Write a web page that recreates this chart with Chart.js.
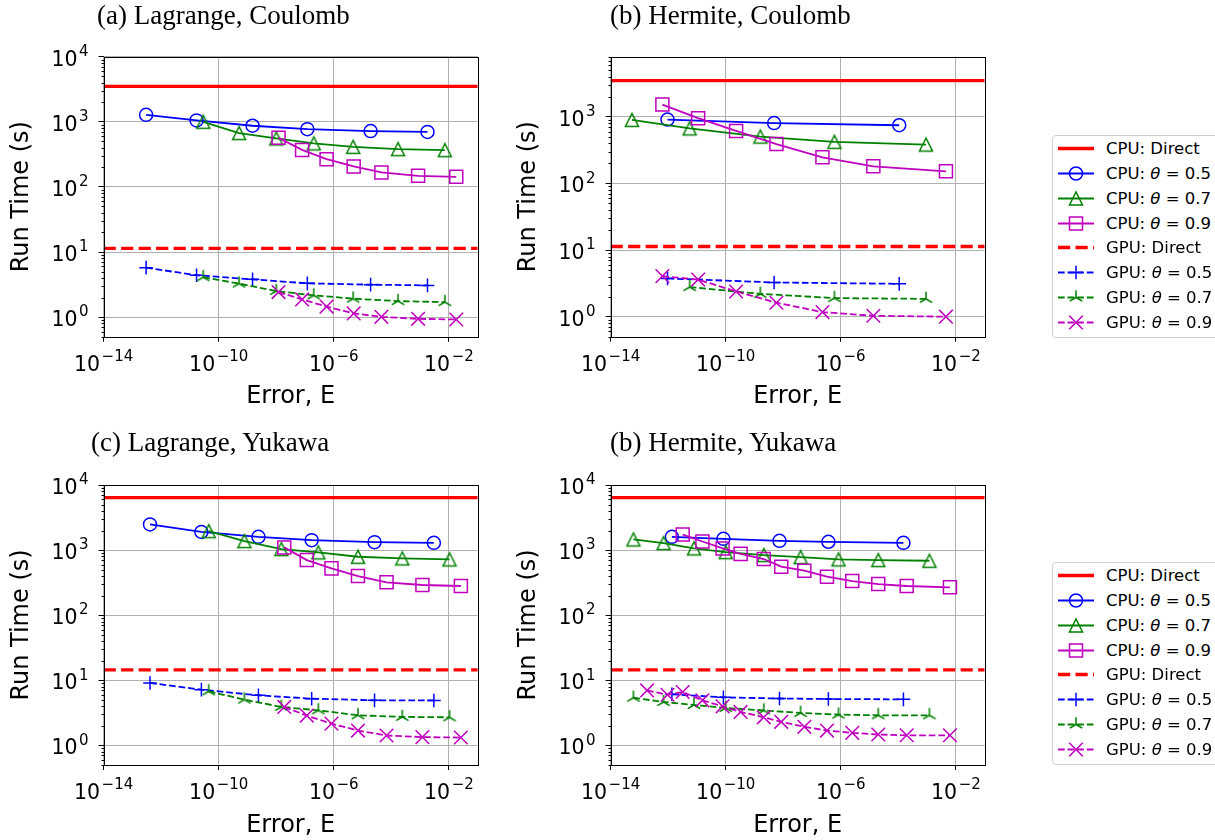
<!DOCTYPE html>
<html><head><meta charset="utf-8">
<script src="https://cdn.jsdelivr.net/npm/chart.js@4.4.1/dist/chart.umd.min.js"></script>
<style>
html,body{margin:0;padding:0;background:#fff;}
body{width:1215px;height:840px;overflow:hidden;position:relative;}
canvas.pc{position:absolute;}
.ttl{position:absolute;font-family:"Liberation Serif","Times New Roman",serif;font-size:27px;line-height:27px;color:#000;white-space:nowrap;}
.leg{position:absolute;left:1052px;width:180px;height:203px;box-sizing:border-box;border:1px solid #d0d0d0;border-radius:4px;background:#fff;}
.lr{position:absolute;left:0;height:25px;width:180px;}
.lr canvas{position:absolute;left:4px;top:0;}
.lr span{position:absolute;left:53px;top:0;line-height:25px;font-family:"DejaVu Sans";font-size:16.5px;color:#000;white-space:nowrap;}
.lr i{font-style:italic;}
</style></head><body>
<canvas id="c0" class="pc" width="500" height="420" style="left:0;top:0"></canvas>
<canvas id="c1" class="pc" width="500" height="420" style="left:507px;top:0"></canvas>
<canvas id="c2" class="pc" width="500" height="420" style="left:0;top:420px"></canvas>
<canvas id="c3" class="pc" width="500" height="420" style="left:507px;top:420px"></canvas>
<div class="ttl" style="left:97px;top:2px">(a) Lagrange, Coulomb</div>
<div class="ttl" style="left:610px;top:2px">(b) Hermite, Coulomb</div>
<div class="ttl" style="left:91px;top:429px">(c) Lagrange, Yukawa</div>
<div class="ttl" style="left:610px;top:429px">(b) Hermite, Yukawa</div>
<div class="leg" id="leg0" style="top:135px"></div>
<div class="leg" id="leg1" style="top:562px"></div>
<script>
// ---------- data ----------
const XMIN = 1e-14, XMAX = 1e-1;
const xTickValues = [1e-14, 1e-10, 1e-6, 1e-2];
const yMinAll = 0.5;
const yMaxPanel = [1e4, 8000, 1e4, 1e4];
const cpuDirect = [3500, 3500, 6400, 6400];
const gpuDirect = [11.4, 11.3, 14.5, 14.5];

// (a) Lagrange, Coulomb
const aErr05 = [3.0e-13, 1.7e-11, 1.5e-9, 1.2e-7, 1.9e-5, 1.8e-3];
const aCpu05 = [1280, 1050, 870, 770, 720, 700];
const aGpu05 = [5.75, 4.4, 3.8, 3.3, 3.15, 3.07];
const aErr07 = [2.9e-11, 5.1e-10, 1.0e-8, 2.0e-7, 4.7e-6, 1.7e-4, 7.2e-3];
const aCpu07 = [1000, 670, 555, 466, 412, 380, 367];
const aGpu07 = [4.1, 3.27, 2.51, 2.16, 1.92, 1.76, 1.70];
const aErr09 = [1.2e-8, 7.9e-8, 5.6e-7, 4.9e-6, 4.5e-5, 8.5e-4, 1.8e-2];
const aCpu09 = [567, 370, 267, 206, 167, 148, 143];
const aGpu09 = [2.42, 1.87, 1.45, 1.14, 1.01, 0.94, 0.92];

// (b) Hermite, Coulomb
const bErr05 = [9.5e-13, 4.8e-9, 1.07e-4];
const bCpu05 = [911, 805, 748];
const bGpu05 = [3.75, 3.26, 3.11];
const bErr07 = [5.5e-14, 5.6e-12, 1.6e-9, 6.0e-7, 9.1e-4];
const bCpu07 = [900, 670, 505, 421, 383];
const bErr07g = [5.6e-12, 1.6e-9, 6.0e-7, 9.1e-4];
const bGpu07 = [2.78, 2.2, 1.9, 1.85];
const bErr09 = [6.3e-13, 1.1e-11, 2.3e-10, 5.8e-9, 2.3e-7, 1.35e-5, 4.5e-3];
const bCpu09 = [1530, 955, 615, 390, 247, 181, 152];
const bGpu09 = [4.06, 3.6, 2.39, 1.62, 1.17, 1.03, 1.0];

// (c) Lagrange, Yukawa
const cErr05 = [4.1e-13, 2.5e-11, 2.4e-9, 1.7e-7, 2.6e-5, 3.0e-3];
const cCpu05 = [2480, 1905, 1600, 1422, 1325, 1294];
const cGpu05 = [9.1, 7.18, 5.88, 5.22, 4.92, 4.9];
const cErr07 = [4.5e-11, 7.8e-10, 1.5e-8, 2.9e-7, 6.9e-6, 2.4e-4, 1.05e-2];
const cCpu07 = [1955, 1374, 1036, 921, 790, 745, 720];
const cGpu07 = [6.76, 5.05, 3.9, 3.46, 2.9, 2.74, 2.7];
const cErr09 = [1.9e-8, 1.15e-7, 8.3e-7, 6.9e-6, 6.8e-5, 1.2e-3, 2.6e-2];
const cCpu09 = [1100, 703, 524, 400, 320, 291, 281];
const cGpu09 = [3.9, 2.87, 2.16, 1.69, 1.42, 1.34, 1.32];

// (d) Hermite, Yukawa
const dErr05 = [1.35e-12, 8.3e-11, 7.4e-9, 3.7e-7, 1.5e-4];
const dCpu05 = [1600, 1490, 1389, 1341, 1294];
const dGpu05 = [6.1, 5.47, 5.25, 5.16, 5.1];
const dErr07 = [6.2e-14, 6.9e-13, 7.9e-12, 1.0e-10, 2.1e-9, 4.0e-8, 8.3e-7, 2.0e-5, 1.2e-3];
const dCpu07 = [1458, 1280, 1062, 930, 838, 780, 720, 703, 686];
const dGpu07 = [5.4, 4.65, 4.18, 3.76, 3.45, 3.15, 2.97, 2.90, 2.90];
const dErr09 = [3.2e-12, 1.55e-11, 7.8e-11, 3.3e-10, 2.1e-9, 8.5e-9, 5.4e-8, 3.3e-7, 2.5e-6, 2.0e-5, 1.95e-4, 6.2e-3];
const dCpu09 = [1730, 1355, 1062, 875, 730, 556, 482, 391, 335, 301, 281, 268];
const dErr09g = [1.85e-13, 9.5e-13, 3.2e-12, 1.55e-11, 7.8e-11, 3.3e-10, 2.1e-9, 8.5e-9, 5.4e-8, 3.3e-7, 2.5e-6, 2.0e-5, 1.95e-4, 6.2e-3];
const dGpu09 = [7.0, 6.0, 6.6, 4.92, 3.98, 3.27, 2.70, 2.30, 1.93, 1.69, 1.56, 1.47, 1.43, 1.43];

const legendLabels = ['CPU: Direct', 'CPU: <i>θ</i> = 0.5', 'CPU: <i>θ</i> = 0.7', 'CPU: <i>θ</i> = 0.9',
                      'GPU: Direct', 'GPU: <i>θ</i> = 0.5', 'GPU: <i>θ</i> = 0.7', 'GPU: <i>θ</i> = 0.9'];

// ---------- styles ----------
const RED = '#ff0000', BLUE = '#0000ff', GREEN = '#008000', MAG = '#bf00bf';
const THICK = 3.3, THIN = 1.8;
const DASH_THICK = [12.2, 5.3], DASH_THIN = [6.7, 2.9];

function markerCanvas(kind, color) {
  const s = 22, c = document.createElement('canvas');
  c.width = s; c.height = s;
  const g = c.getContext('2d');
  drawMarker(g, kind, s / 2, s / 2, color);
  return c;
}
function drawMarker(g, kind, x, y, color) {
  g.save();
  g.strokeStyle = color; g.lineWidth = 1.5; g.setLineDash([]);
  g.beginPath();
  const h = 6.5;
  if (kind === 'circle') { g.arc(x, y, h, 0, Math.PI * 2); }
  else if (kind === 'tri') { g.moveTo(x, y - h); g.lineTo(x - h, y + h); g.lineTo(x + h, y + h); g.closePath(); }
  else if (kind === 'square') { g.rect(x - h, y - h, 2 * h, 2 * h); }
  else if (kind === 'plus') { g.moveTo(x - 6.8, y); g.lineTo(x + 6.8, y); g.moveTo(x, y - 6.8); g.lineTo(x, y + 6.8); }
  else if (kind === 'triup') { const L = 7.2; g.moveTo(x, y); g.lineTo(x, y - L); g.moveTo(x, y); g.lineTo(x - L * 0.866, y + L * 0.5); g.moveTo(x, y); g.lineTo(x + L * 0.866, y + L * 0.5); }
  else if (kind === 'x') { g.moveTo(x - 6.8, y - 6.8); g.lineTo(x + 6.8, y + 6.8); g.moveTo(x - 6.8, y + 6.8); g.lineTo(x + 6.8, y - 6.8); }
  g.stroke();
  g.restore();
}
const triImg = markerCanvas('tri', GREEN);
const triupImg = markerCanvas('triup', GREEN);

function pts(xs, ys) { return xs.map((x, i) => ({x: x, y: ys[i]})); }

// matplotlib-style 10^n label: base at 20px, exponent at 15px raised
function drawPow(ctx, v, x, baseY, align) {
  const e = Math.round(Math.log10(v));
  const base = '10', ex = (e < 0 ? '\u2212' : '') + Math.abs(e);
  ctx.font = '20.5px "DejaVu Sans"';
  const wb = ctx.measureText(base).width;
  ctx.font = '15px "DejaVu Sans"';
  const we = ctx.measureText(ex).width;
  const gap = 1.5;
  const total = wb + gap + we;
  const x0 = align === 'right' ? x - total : x - total / 2;
  ctx.textAlign = 'left'; ctx.textBaseline = 'alphabetic'; ctx.fillStyle = '#000';
  ctx.font = '20.5px "DejaVu Sans"';
  ctx.fillText(base, x0, baseY);
  ctx.font = '15px "DejaVu Sans"';
  ctx.fillText(ex, x0 + wb + gap, baseY - 9.8);
}

const framePlugin = {
  id: 'frame',
  afterDraw(chart) {
    const {ctx, chartArea: a} = chart;
    const y = chart.scales.y, xs = chart.scales.x;
    ctx.save();
    ctx.strokeStyle = '#000'; ctx.lineWidth = 1; ctx.setLineDash([]);
    const L = Math.round(a.left) + 0.5, R = Math.round(a.right) + 0.5, T = Math.round(a.top) + 0.5, B = Math.round(a.bottom) + 0.5;
    ctx.strokeRect(L, T, R - L, B - T);
    ctx.beginPath();
    for (let e = -1; e <= 4; e++) {
      for (let k = 2; k <= 9; k++) {
        const v = k * Math.pow(10, e);
        if (v < y.min || v > y.max) continue;
        const py = Math.round(y.getPixelForValue(v)) + 0.5;
        ctx.moveTo(L - 3, py); ctx.lineTo(L, py);
      }
    }
    ctx.stroke();
    // tick labels from the scales' own ticks
    y.ticks.forEach(t => drawPow(ctx, t.value, a.left - 15, y.getPixelForValue(t.value) + 9, 'right'));
    xs.ticks.forEach(t => drawPow(ctx, t.value, xs.getPixelForValue(t.value), a.bottom + 34, 'center'));
    ctx.restore();
  }
};

const panels = [
  {e05: aErr05, c05: aCpu05, g05: aGpu05, e07: aErr07, c07: aCpu07, e07g: aErr07, g07: aGpu07, e09: aErr09, c09: aCpu09, e09g: aErr09, g09: aGpu09},
  {e05: bErr05, c05: bCpu05, g05: bGpu05, e07: bErr07, c07: bCpu07, e07g: bErr07g, g07: bGpu07, e09: bErr09, c09: bCpu09, e09g: bErr09, g09: bGpu09},
  {e05: cErr05, c05: cCpu05, g05: cGpu05, e07: cErr07, c07: cCpu07, e07g: cErr07, g07: cGpu07, e09: cErr09, c09: cCpu09, e09g: cErr09, g09: cGpu09},
  {e05: dErr05, c05: dCpu05, g05: dGpu05, e07: dErr07, c07: dCpu07, e07g: dErr07, g07: dGpu07, e09: dErr09, c09: dCpu09, e09g: dErr09g, g09: dGpu09}
];
const layouts = [
  {padTop: 56.7, xH: 83.3, xtPad: 8.6},
  {padTop: 56.7, xH: 83.3, xtPad: 8.6},
  {padTop: 65, xH: 75, xtPad: 0.3},
  {padTop: 65, xH: 75, xtPad: 0.3}
];

function lineDs(label, data, color, width, dash, style, radius, order) {
  return {
    label: label, data: data, borderColor: color, backgroundColor: 'rgba(0,0,0,0)',
    borderWidth: width, borderDash: dash, tension: 0, fill: false,
    pointStyle: style || false, pointRadius: style ? radius : 0, pointBorderWidth: 1.5,
    pointBorderColor: color, pointBackgroundColor: 'rgba(0,0,0,0)', order: order
  };
}

panels.forEach((p, i) => {
  const L = layouts[i];
  const datasets = [
    lineDs('CPU: Direct', [{x: XMIN, y: cpuDirect[i]}, {x: XMAX, y: cpuDirect[i]}], RED, THICK, [], null, 0, 10),
    lineDs('CPU: θ = 0.5', pts(p.e05, p.c05), BLUE, THIN, [], 'circle', 6.5, 9),
    lineDs('CPU: θ = 0.7', pts(p.e07, p.c07), GREEN, THIN, [], triImg, 6.5, 8),
    lineDs('CPU: θ = 0.9', pts(p.e09, p.c09), MAG, THIN, [], 'rect', 9.2, 7),
    lineDs('GPU: Direct', [{x: XMIN, y: gpuDirect[i]}, {x: XMAX, y: gpuDirect[i]}], RED, THICK, DASH_THICK, null, 0, 6),
    lineDs('GPU: θ = 0.5', pts(p.e05, p.g05), BLUE, THIN, DASH_THIN, 'cross', 6.8, 5),
    lineDs('GPU: θ = 0.7', pts(p.e07g, p.g07), GREEN, THIN, DASH_THIN, triupImg, 6.5, 4),
    lineDs('GPU: θ = 0.9', pts(p.e09g, p.g09), MAG, THIN, DASH_THIN, 'crossRot', 9.6, 3)
  ];
  new Chart(document.getElementById('c' + i), {
    type: 'line',
    data: {datasets: datasets},
    plugins: [framePlugin],
    options: {
      responsive: false, animation: false, devicePixelRatio: 1, events: [],
      layout: {padding: {left: 0, top: L.padTop, right: 22.3, bottom: 0}},
      plugins: {legend: {display: false}, tooltip: {enabled: false}, title: {display: false}},
      scales: {
        x: {
          type: 'logarithmic', min: XMIN, max: XMAX, position: 'bottom',
          afterBuildTicks: s => { s.ticks = xTickValues.map(v => ({value: v})); },
          afterFit: s => { s.height = L.xH; },
          ticks: {display: false},
          grid: {color: '#b0b0b0', lineWidth: 1, drawTicks: true, tickLength: 5, tickColor: '#000', tickWidth: 1},
          border: {display: false},
          title: {display: true, text: 'Error, E', color: '#000', font: {family: 'DejaVu Sans', size: 24}, padding: {top: 0, bottom: L.xtPad}}
        },
        y: {
          type: 'logarithmic', min: yMinAll, max: yMaxPanel[i], position: 'left',
          afterBuildTicks: s => { const t = []; for (let e = 0; e <= 4; e++) { const v = Math.pow(10, e); if (v >= s.min && v <= s.max) t.push({value: v}); } s.ticks = t; },
          afterFit: s => { s.width = 103.6; },
          ticks: {display: false},
          grid: {color: '#b0b0b0', lineWidth: 1, drawTicks: true, tickLength: 5, tickColor: '#000', tickWidth: 1},
          border: {display: false},
          title: {display: true, text: 'Run Time (s)', color: '#000', font: {family: 'DejaVu Sans', size: 24}, padding: {top: 7.3, bottom: 0}}
        }
      }
    }
  });
});

// ---------- legends ----------
const legendStyles = [
  {color: RED, lw: THICK, dash: [], marker: null},
  {color: BLUE, lw: THIN, dash: [], marker: 'circle'},
  {color: GREEN, lw: THIN, dash: [], marker: 'tri'},
  {color: MAG, lw: THIN, dash: [], marker: 'square'},
  {color: RED, lw: THICK, dash: DASH_THICK, marker: null},
  {color: BLUE, lw: THIN, dash: DASH_THIN, marker: 'plus'},
  {color: GREEN, lw: THIN, dash: DASH_THIN, marker: 'triup'},
  {color: MAG, lw: THIN, dash: DASH_THIN, marker: 'x'}
];
['leg0', 'leg1'].forEach(id => {
  const box = document.getElementById(id);
  legendLabels.forEach((lab, k) => {
    const row = document.createElement('div');
    row.className = 'lr';
    row.style.top = (13.3 + 24.9 * k - 12.5 - 1) + 'px';
    const cv = document.createElement('canvas');
    cv.width = 38; cv.height = 25;
    const g = cv.getContext('2d');
    const st = legendStyles[k];
    g.strokeStyle = st.color; g.lineWidth = st.lw; g.setLineDash(st.dash);
    g.beginPath(); g.moveTo(1, 12.5); g.lineTo(37, 12.5); g.stroke();
    if (st.marker) drawMarker(g, st.marker, 19, 12.5, st.color);
    row.appendChild(cv);
    const sp = document.createElement('span');
    sp.innerHTML = lab;
    row.appendChild(sp);
    box.appendChild(row);
  });
});
</script>
</body></html>
